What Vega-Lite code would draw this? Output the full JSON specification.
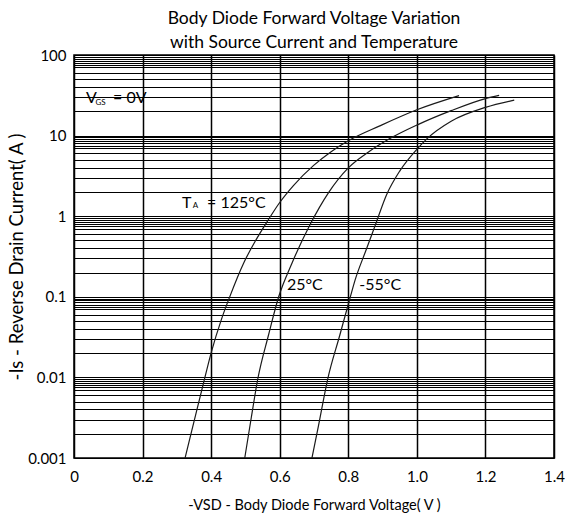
{
  "$schema": "https://vega.github.io/schema/vega-lite/v6.json",
  "autosize": {"type": "none"},
  "padding": {"left": 74, "top": 55, "right": 23, "bottom": 58},
  "width": 480,
  "height": 403,
  "background": "white",
  "title": {
    "text": ["Body Diode Forward Voltage Variation", "with Source Current and Temperature"],
    "font": "Lato",
    "fontSize": 17.5,
    "fontWeight": "normal",
    "color": "black",
    "lineHeight": 24,
    "anchor": "middle",
    "offset": -3
  },
  "datasets": {
    "curves": [
      {"series": "125°C", "v": 0.324, "i": 0.001},
      {"series": "125°C", "v": 0.344, "i": 0.00224},
      {"series": "125°C", "v": 0.380, "i": 0.00933},
      {"series": "125°C", "v": 0.401, "i": 0.0209},
      {"series": "125°C", "v": 0.430, "i": 0.0525},
      {"series": "125°C", "v": 0.455, "i": 0.102},
      {"series": "125°C", "v": 0.495, "i": 0.263},
      {"series": "125°C", "v": 0.530, "i": 0.501},
      {"series": "125°C", "v": 0.563, "i": 0.851},
      {"series": "125°C", "v": 0.600, "i": 1.48},
      {"series": "125°C", "v": 0.640, "i": 2.40},
      {"series": "125°C", "v": 0.699, "i": 4.27},
      {"series": "125°C", "v": 0.750, "i": 6.31},
      {"series": "125°C", "v": 0.800, "i": 8.61},
      {"series": "125°C", "v": 0.892, "i": 13.2},
      {"series": "125°C", "v": 1.000, "i": 20.9},
      {"series": "125°C", "v": 1.123, "i": 31.3},
      {"series": "25°C", "v": 0.498, "i": 0.001},
      {"series": "25°C", "v": 0.517, "i": 0.00316},
      {"series": "25°C", "v": 0.536, "i": 0.00955},
      {"series": "25°C", "v": 0.567, "i": 0.0331},
      {"series": "25°C", "v": 0.597, "i": 0.1},
      {"series": "25°C", "v": 0.636, "i": 0.263},
      {"series": "25°C", "v": 0.689, "i": 0.794},
      {"series": "25°C", "v": 0.742, "i": 1.95},
      {"series": "25°C", "v": 0.800, "i": 3.98},
      {"series": "25°C", "v": 0.860, "i": 6.31},
      {"series": "25°C", "v": 0.920, "i": 9.12},
      {"series": "25°C", "v": 1.000, "i": 13.5},
      {"series": "25°C", "v": 1.100, "i": 20.4},
      {"series": "25°C", "v": 1.200, "i": 28.8},
      {"series": "25°C", "v": 1.240, "i": 31.6},
      {"series": "-55°C", "v": 0.694, "i": 0.001},
      {"series": "-55°C", "v": 0.713, "i": 0.00251},
      {"series": "-55°C", "v": 0.740, "i": 0.00955},
      {"series": "-55°C", "v": 0.775, "i": 0.0331},
      {"series": "-55°C", "v": 0.806, "i": 0.1},
      {"series": "-55°C", "v": 0.820, "i": 0.162},
      {"series": "-55°C", "v": 0.850, "i": 0.363},
      {"series": "-55°C", "v": 0.878, "i": 0.759},
      {"series": "-55°C", "v": 0.912, "i": 1.86},
      {"series": "-55°C", "v": 0.950, "i": 3.63},
      {"series": "-55°C", "v": 1.000, "i": 6.76},
      {"series": "-55°C", "v": 1.029, "i": 9.12},
      {"series": "-55°C", "v": 1.100, "i": 15.1},
      {"series": "-55°C", "v": 1.200, "i": 22.4},
      {"series": "-55°C", "v": 1.284, "i": 27.5}
    ],
    "labels": [
      {"v": 0.035, "i": 29.0, "text": "V"},
      {"v": 0.1138, "i": 29.0, "text": "= 0V"},
      {"v": 0.315, "i": 1.46, "text": "T"},
      {"v": 0.388, "i": 1.46, "text": "= 125°C"},
      {"v": 0.621, "i": 0.141, "text": "25°C"},
      {"v": 0.832, "i": 0.141, "text": "-55°C"}
    ],
    "subs": [
      {"v": 0.0627, "i": 25.4, "text": "GS"},
      {"v": 0.346, "i": 1.33, "text": "A"}
    ]
  },
  "config": {
    "font": "Lato",
    "view": {"stroke": "black", "strokeWidth": 1.5},
    "axis": {
      "domain": false,
      "ticks": false,
      "gridColor": "black",
      "gridOpacity": 1,
      "labelColor": "black",
      "titleColor": "black",
      "labelFont": "Lato",
      "titleFont": "Lato",
      "labelFontSize": 15,
      "titleFontSize": 16,
      "titleFontWeight": "normal"
    }
  },
  "layer": [
    {
      "data": {"name": "curves"},
      "mark": {"type": "line", "color": "#1a1a1a", "strokeWidth": 1.2, "interpolate": "monotone"},
      "encoding": {
        "x": {
          "field": "v",
          "type": "quantitative",
          "scale": {"domain": [0, 1.4], "nice": false, "zero": false},
          "axis": {
            "values": [0, 0.2, 0.4, 0.6, 0.8, 1.0, 1.2, 1.4],
            "labelExpr": "datum.value == 0 ? '0' : format(datum.value, '.1f')",
            "labelFlush": false,
            "labelPadding": 11,
            "title": "-VSD - Body Diode Forward Voltage( V )",
            "titleFontSize": 14.5,
            "titlePadding": 14,
            "gridWidth": 1.5
          }
        },
        "y": {
          "field": "i",
          "type": "quantitative",
          "scale": {"type": "log", "domain": [0.001, 100], "nice": false},
          "axis": {
            "values": [0.001, 0.002, 0.003, 0.004, 0.005, 0.006, 0.007, 0.0075, 0.008, 0.0085, 0.009, 0.0095,
                       0.01, 0.02, 0.03, 0.04, 0.05, 0.06, 0.07, 0.075, 0.08, 0.085, 0.09, 0.095,
                       0.1, 0.2, 0.3, 0.4, 0.5, 0.6, 0.7, 0.75, 0.8, 0.85, 0.9, 0.95,
                       1, 2, 3, 4, 5, 6, 7, 7.5, 8, 8.5, 9, 9.5,
                       10, 20, 30, 40, 50, 60, 70, 75, 80, 85, 90, 95,
                       100],
            "labelExpr": "(datum.value == 0.001 || datum.value == 0.01 || datum.value == 0.1 || datum.value == 1 || datum.value == 10 || datum.value == 100) ? format(datum.value, '~g') : ''",
            "labelPadding": 8,
            "labelFlush": false,
            "labelOverlap": false,
            "title": "-Is - Reverse Drain Current( A )",
            "titleFontSize": 18.5,
            "titlePadding": 1,
            "gridWidth": 1
          }
        },
        "detail": {"field": "series"}
      }
    },
    {
      "data": {"name": "labels"},
      "mark": {"type": "text", "align": "left", "baseline": "middle", "font": "Lato", "fontSize": 16, "color": "black"},
      "encoding": {
        "x": {"field": "v", "type": "quantitative"},
        "y": {"field": "i", "type": "quantitative"},
        "text": {"field": "text"}
      }
    },
    {
      "data": {"name": "subs"},
      "mark": {"type": "text", "align": "left", "baseline": "middle", "font": "Lato", "fontSize": 8, "color": "black"},
      "encoding": {
        "x": {"field": "v", "type": "quantitative"},
        "y": {"field": "i", "type": "quantitative"},
        "text": {"field": "text"}
      }
    }
  ]
}
